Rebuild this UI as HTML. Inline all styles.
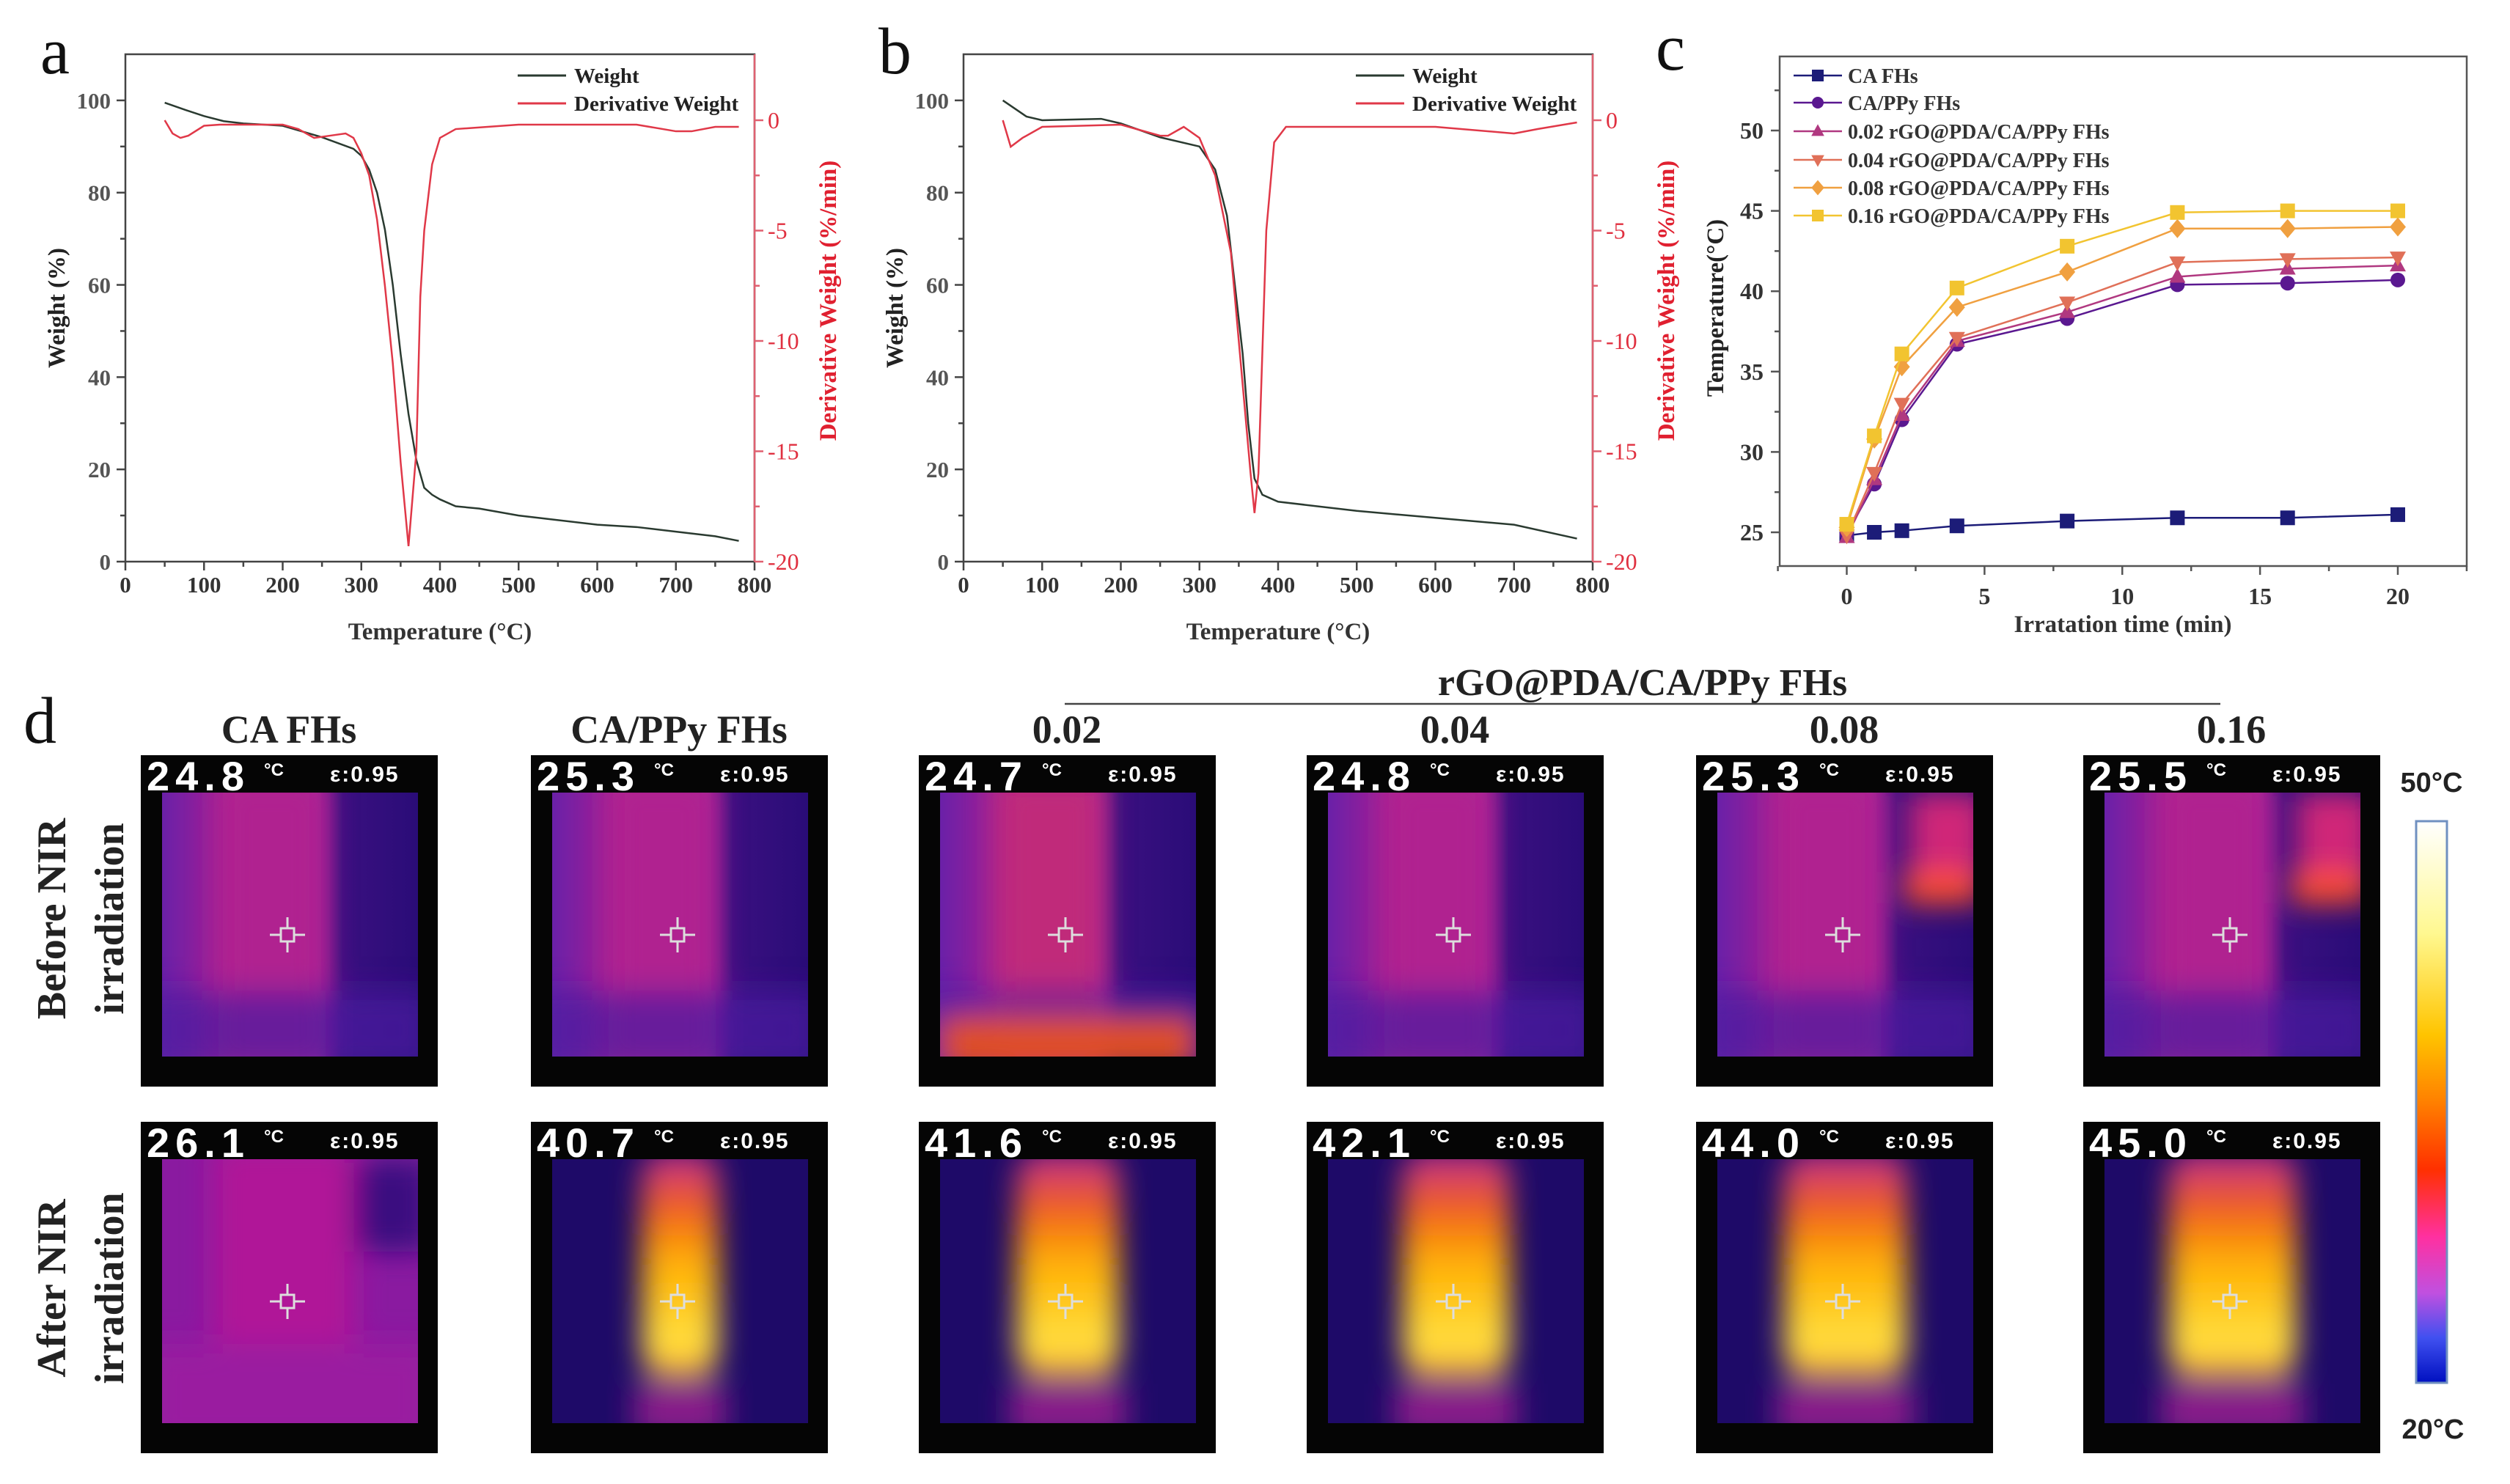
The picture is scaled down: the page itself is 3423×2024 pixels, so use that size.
<!DOCTYPE html>
<html><head><meta charset="utf-8"><style>
html,body{margin:0;padding:0;background:#fff}
svg{display:block}
text{font-family:"Liberation Serif",serif;font-weight:bold}
text.nb{font-weight:normal}
.sans{font-family:"Liberation Sans",sans-serif}
</style></head><body>
<svg id="fig" width="3423" height="2024" viewBox="0 0 3423 2024" xmlns="http://www.w3.org/2000/svg">
<defs>
<filter id="blur" x="-30%" y="-30%" width="160%" height="160%"><feGaussianBlur stdDeviation="20"/></filter>
<linearGradient id="cbar" x1="0" y1="0" x2="0" y2="1">
<stop offset="0" stop-color="#ffffff"/><stop offset="0.2" stop-color="#fff890"/><stop offset="0.38" stop-color="#ffc400"/><stop offset="0.5" stop-color="#ff8000"/><stop offset="0.62" stop-color="#ff3000"/><stop offset="0.74" stop-color="#ff30a0"/><stop offset="0.84" stop-color="#c050e0"/><stop offset="0.92" stop-color="#4050f0"/><stop offset="1" stop-color="#0010c0"/></linearGradient>
<linearGradient id="hot" x1="0" y1="0" x2="0" y2="1">
<stop offset="0" stop-color="#c02890"/><stop offset="0.25" stop-color="#f06020"/><stop offset="0.5" stop-color="#ffb000"/><stop offset="0.85" stop-color="#ffe040"/><stop offset="1" stop-color="#ffb030"/></linearGradient>
<linearGradient id="before" x1="0" y1="0" x2="1" y2="0">
<stop offset="0" stop-color="#6a20a8"/><stop offset="0.3" stop-color="#b02090"/><stop offset="0.6" stop-color="#a0209a"/><stop offset="0.7" stop-color="#3a1080"/><stop offset="1" stop-color="#2a0c78"/></linearGradient>
</defs>
<g id="pa"></g>
<g id="pb"></g>
<g id="pc"></g>
<g id="pd"></g>
</svg>
<script>
// ---- Panel a data ----
const aTemp = [50,75,100,125,150,200,250,290,300,310,320,330,340,350,360,370,380,390,400,420,450,500,550,600,650,700,750,780];
const aWeight = [99.5,98,96.6,95.5,95,94.5,92,89.5,88,85,80,72,60,45,32,22,16,14.5,13.5,12,11.5,10,9,8,7.5,6.5,5.5,4.5];
const aDerivT = [50,60,70,80,100,120,200,220,240,260,280,290,300,310,320,330,340,350,360,370,375,380,390,400,420,500,650,700,720,750,780];
const aDeriv = [0,-0.6,-0.8,-0.7,-0.25,-0.2,-0.2,-0.4,-0.8,-0.7,-0.6,-0.8,-1.5,-2.5,-4.5,-7.5,-11,-15.5,-19.3,-15,-8,-5,-2,-0.8,-0.4,-0.2,-0.2,-0.5,-0.5,-0.3,-0.3];
// ---- Panel b data ----
const bTemp = [50,80,100,175,200,250,300,320,335,345,355,362,370,380,400,500,600,700,780];
const bWeight = [100,96.5,95.7,96,95,92,90,85,75,60,45,30,18,14.5,13,11,9.5,8,5];
const bDerivT = [50,60,75,100,200,250,260,280,300,320,340,355,365,370,375,385,395,410,600,700,730,780];
const bDeriv = [0,-1.2,-0.8,-0.3,-0.2,-0.7,-0.7,-0.3,-0.8,-2.5,-6,-12,-16,-17.8,-16,-5,-1,-0.3,-0.3,-0.6,-0.4,-0.1];
const tgaXTicks = [0,100,200,300,400,500,600,700,800];
const tgaYTicks = [0,20,40,60,80,100];
const tgaRTicks = [0,-5,-10,-15,-20];
// ---- Panel c data ----
const cTimes = [0,1,2,4,8,12,16,20];
const cNames = ["CA FHs","CA/PPy FHs","0.02 rGO@PDA/CA/PPy FHs","0.04 rGO@PDA/CA/PPy FHs","0.08 rGO@PDA/CA/PPy FHs","0.16 rGO@PDA/CA/PPy FHs"];
const cCA = [24.8,25.0,25.1,25.4,25.7,25.9,25.9,26.1];
const cPPy = [24.9,28.0,32.0,36.7,38.3,40.4,40.5,40.7];
const c002 = [24.7,28.3,32.3,36.9,38.7,40.9,41.4,41.6];
const c004 = [24.8,28.7,33.0,37.1,39.3,41.8,42.0,42.1];
const c008 = [25.3,30.8,35.3,39.0,41.2,43.9,43.9,44.0];
const c016 = [25.5,31.0,36.1,40.2,42.8,44.9,45.0,45.0];
const cXTicks = [0,5,10,15,20];
const cYTicks = [25,30,35,40,45,50];
// ---- Panel d data ----
const dCols = ["CA FHs","CA/PPy FHs","0.02","0.04","0.08","0.16"];
const dBefore = ["24.8","25.3","24.7","24.8","25.3","25.5"];
const dAfter = ["26.1","40.7","41.6","42.1","44.0","45.0"];

const NS="http://www.w3.org/2000/svg";
function mk(parent,tag,attrs,txt){const e=document.createElementNS(NS,tag);for(const k in attrs)e.setAttribute(k,attrs[k]);if(txt!==undefined)e.textContent=txt;parent.appendChild(e);return e;}

function tga(g,dx,temp,wt,dT,dv,letter){
  const L=171+dx,R=1029+dx,T=74,B=766;
  const sx=v=>L+(v/800)*(R-L);
  const sy=v=>766-(v/110)*(B-T);
  const sr=v=>164+(-v/20)*(766-164);
  const lab=mk(g,'text',{x:55+dx,y:100,'font-size':90,'class':'nb',fill:'#111'},letter);
  
  
  const box=mk(g,'rect',{x:L,y:T,width:R-L,height:B-T,fill:'none',stroke:'#444','stroke-width':2.5});
  
  
  mk(g,'line',{x1:R,y1:T,x2:R,y2:B,stroke:'#e06070','stroke-width':2.5});
  for(let v=0;v<=800;v+=50){const big=v%100===0;mk(g,'line',{x1:sx(v),y1:B,x2:sx(v),y2:B+(big?12:7),stroke:'#444','stroke-width':2.5});}
  tgaXTicks.forEach(v=>{const t=mk(g,'text',{x:sx(v),y:B+42,'text-anchor':'middle','font-size':31,fill:'#333'},String(v));});
  for(let v=0;v<=100;v+=10){const big=v%20===0;mk(g,'line',{x1:L,y1:sy(v),x2:L-(big?12:7),y2:sy(v),stroke:'#444','stroke-width':2.5});}
  tgaYTicks.forEach(v=>{const t=mk(g,'text',{x:L-20,y:sy(v)+11,'text-anchor':'end','font-size':31,fill:'#555'},String(v));});
  for(let v=0;v>=-20;v-=2.5){const big=v%5===0;mk(g,'line',{x1:R,y1:sr(v),x2:R+(big?12:7),y2:sr(v),stroke:'#e06070','stroke-width':2.5});}
  tgaRTicks.forEach(v=>{const t=mk(g,'text',{x:R+18,y:sr(v)+11,'font-size':32,'class':'nb',fill:'#e03040'},String(v));});
  const xt=mk(g,'text',{x:(L+R)/2,y:872,'text-anchor':'middle','font-size':33,fill:'#333'},'Temperature (°C)');
  
  const yt=mk(g,'text',{x:0,y:0,'text-anchor':'middle','font-size':33,fill:'#222',transform:`translate(${88+dx},${420}) rotate(-90)`},'Weight (%)');
  
  const rt=mk(g,'text',{x:0,y:0,'text-anchor':'middle','font-size':33,fill:'#e02030',transform:`translate(${1140+dx},${410}) rotate(-90)`},'Derivative Weight (%/min)');
  
  const wl=mk(g,'polyline',{points:temp.map((t,i)=>sx(t)+','+sy(wt[i])).join(' '),fill:'none',stroke:'#2a3a30','stroke-width':2.5});
  
  const dl=mk(g,'polyline',{points:dT.map((t,i)=>sx(t)+','+sr(dv[i])).join(' '),fill:'none',stroke:'#e03848','stroke-width':2.5});
  
  mk(g,'line',{x1:706+dx,y1:103,x2:772+dx,y2:103,stroke:'#2a3a30','stroke-width':3});
  const l1=mk(g,'text',{x:783+dx,y:113,'font-size':29,fill:'#222'},'Weight');
  mk(g,'line',{x1:706+dx,y1:141,x2:772+dx,y2:141,stroke:'#e03848','stroke-width':3});
  const l2=mk(g,'text',{x:783+dx,y:151,'font-size':29,fill:'#222'},'Derivative Weight');
}
tga(document.getElementById('pa'),0,aTemp,aWeight,aDerivT,aDeriv,'a');
tga(document.getElementById('pb'),1143,bTemp,bWeight,bDerivT,bDeriv,'b');

// Panel c
(function(){
  const g=document.getElementById('pc');
  const L=2427,R=3364,T=77,B=772;
  const sx=v=>2518.5+v*(3270-2518.5)/20;
  const sy=v=>726-(v-25)*(726-178)/25;
  const lab=mk(g,'text',{x:2258,y:95,'font-size':90,'class':'nb',fill:'#111'},'c');
  
  const box=mk(g,'rect',{x:L,y:T,width:R-L,height:B-T,fill:'none',stroke:'#555','stroke-width':2.5});
  
  for(let v=-2.5;v<=22.5;v+=2.5){const big=v%5===0;mk(g,'line',{x1:sx(v),y1:B,x2:sx(v),y2:B+(big?12:7),stroke:'#555','stroke-width':2.5});}
  cXTicks.forEach(v=>{const t=mk(g,'text',{x:sx(v),y:B+52,'text-anchor':'middle','font-size':32,fill:'#333'},String(v));});
  for(let v=22.5;v<=55;v+=2.5){if(sy(v)<T||sy(v)>B)continue;const big=v%5===0;mk(g,'line',{x1:L,y1:sy(v),x2:L-(big?12:7),y2:sy(v),stroke:'#555','stroke-width':2.5});}
  cYTicks.forEach(v=>{const t=mk(g,'text',{x:L-22,y:sy(v)+11,'text-anchor':'end','font-size':32,fill:'#333'},String(v));});
  const xt=mk(g,'text',{x:2895,y:862,'text-anchor':'middle','font-size':33,fill:'#333'},'Irratation time (min)');
  
  const yt=mk(g,'text',{x:0,y:0,'text-anchor':'middle','font-size':33,fill:'#222',transform:'translate(2350,420) rotate(-90)'},'Temperature(°C)');
  
  const series=[cCA,cPPy,c002,c004,c008,c016];
  const cols=['#1c1c78','#5a1890','#b03880','#e07058','#f0a040','#f2c430'];
  const shapes=['sq','ci','tu','td','di','sq'];
  function marker(par,x,y,s,c,r){
    let e;
    if(s==='sq')e=mk(par,'rect',{x:x-r,y:y-r,width:2*r,height:2*r,fill:c});
    else if(s==='ci')e=mk(par,'circle',{cx:x,cy:y,r:r,fill:c});
    else if(s==='tu')e=mk(par,'polygon',{points:`${x},${y-r*1.2} ${x-r*1.1},${y+r*0.8} ${x+r*1.1},${y+r*0.8}`,fill:c});
    else if(s==='td')e=mk(par,'polygon',{points:`${x},${y+r*1.2} ${x-r*1.1},${y-r*0.8} ${x+r*1.1},${y-r*0.8}`,fill:c});
    else e=mk(par,'polygon',{points:`${x},${y-r*1.3} ${x+r*1.1},${y} ${x},${y+r*1.3} ${x-r*1.1},${y}`,fill:c});
    return e;
  }
  series.forEach((arr,si)=>{
    const sg=mk(g,'g',{});
    
    
    mk(sg,'polyline',{points:cTimes.map((t,i)=>sx(t)+','+sy(arr[i])).join(' '),fill:'none',stroke:cols[si],'stroke-width':2.5});
    cTimes.forEach((t,i)=>{const m=marker(sg,sx(t),sy(arr[i]),shapes[si],cols[si],10);});
    const ly=[103,140,179,218,256,294][si];
    const le=mk(g,'g',{});
    
    
    mk(le,'line',{x1:2446,y1:ly,x2:2512,y2:ly,stroke:cols[si],'stroke-width':2.5});
    marker(le,2479,ly,shapes[si],cols[si],8);
    mk(le,'text',{x:2520,y:ly+10,'font-size':28,fill:'#333'},cNames[si]);
  });
})();

// Panel d
(function(){
  const g=document.getElementById('pd');
  const lab=mk(g,'text',{x:32,y:1013,'font-size':90,'class':'nb',fill:'#111'},'d');
  
  const colX=[192,724,1253,1782,2313,2841];
  const rowY=[1030,1530];
  const grp=mk(g,'text',{x:2240,y:948,'text-anchor':'middle','font-size':52,fill:'#222'},'rGO@PDA/CA/PPy FHs');
  
  mk(g,'line',{x1:1452,y1:960,x2:3028,y2:960,stroke:'#444','stroke-width':2.5});
  [['Before NIR',1253,69],['irradiation',1253,148],['After NIR',1757,69],['irradiation',1757,148]].forEach(r=>{
    const t=mk(g,'text',{x:0,y:0,'text-anchor':'middle','font-size':56,fill:'#222',transform:`translate(${r[2]+20},${r[1]}) rotate(-90)`},r[0]);
    
  });
  dCols.forEach((name,ci)=>{
    const x0=colX[ci];
    const t=mk(g,'text',{x:x0+202,y:1013,'text-anchor':'middle','font-size':54,fill:'#222'},name);
    
    rowY.forEach((y0,ri)=>{
      const cell=mk(g,'g',{});
      
      
      mk(cell,'rect',{x:x0,y:y0,width:405,height:452,fill:'#050505'});
      const px=x0+29,py=y0+51,pw=349,ph=360;
      const cp='clip'+ci+'_'+ri;
      const cpe=mk(cell,'clipPath',{id:cp});mk(cpe,'rect',{x:px,y:py,width:pw,height:ph});
      const inner=mk(cell,'g',{'clip-path':`url(#${cp})`});
      const heat=ri===1&&ci>0;
      if(!heat){
        mk(inner,'rect',{x:px,y:py,width:pw,height:ph,fill:ri? '#8a1aa0':'url(#before)'});
        const b=mk(inner,'g',{filter:'url(#blur)'});
        if(ri===0){
          mk(b,'rect',{x:px+pw*0.22,y:py-20,width:pw*0.42,height:ph+40,fill:ci===2?'#c02a7a':'#b02090'});
          mk(b,'rect',{x:px-20,y:py+ph*0.75,width:pw+40,height:ph*0.3,fill:'#4a18a0',opacity:0.7});
          if(ci===2)mk(b,'rect',{x:px,y:py+ph*0.85,width:pw,height:ph*0.2,fill:'#e05020'});
          if(ci>=4){mk(b,'rect',{x:px+pw*0.73,y:py+ph*0.3,width:pw*0.3,height:ph*0.12,fill:'#ff5020'});mk(b,'rect',{x:px+pw*0.75,y:py,width:pw*0.3,height:ph*0.3,fill:'#d02878'});}
        } else {
          mk(b,'rect',{x:px+pw*0.2,y:py-20,width:pw*0.55,height:ph+40,fill:'#b01898'});
          mk(b,'rect',{x:px-20,y:py+ph*0.7,width:pw+40,height:ph*0.4,fill:'#9a1ca0'});
          mk(b,'rect',{x:px+pw*0.75,y:py,width:pw*0.3,height:ph*0.35,fill:'#3a1080'});
        }
      } else {
        mk(inner,'rect',{x:px,y:py,width:pw,height:ph,fill:'#1e0a68'});
        const b=mk(inner,'g',{filter:'url(#blur)'});
        const w=[0,0.3,0.4,0.42,0.48,0.5][ci];
        mk(b,'rect',{x:px+pw*(0.5-w/2),y:py-10,width:pw*w,height:ph*0.85,rx:30,fill:'url(#hot)'});
        mk(b,'rect',{x:px+pw*(0.5-w/2)-10,y:py+ph*0.85,width:pw*w+20,height:ph*0.2,fill:'#8a1a8a'});
      }
      const cx=x0+200,cy=y0+245;
      const ch=mk(cell,'g',{stroke:'#ddd','stroke-width':3,fill:'none'});
      
      mk(ch,'rect',{x:cx-9,y:cy-9,width:18,height:18});
      mk(ch,'line',{x1:cx-24,y1:cy,x2:cx-9,y2:cy});mk(ch,'line',{x1:cx+9,y1:cy,x2:cx+24,y2:cy});
      mk(ch,'line',{x1:cx,y1:cy-24,x2:cx,y2:cy-9});mk(ch,'line',{x1:cx,y1:cy+9,x2:cx,y2:cy+24});
      const tv=mk(cell,'text',{x:x0+8,y:y0+48,'font-size':56,fill:'#fff','class':'sans','letter-spacing':'8'},(ri?dAfter:dBefore)[ci]);
      
      mk(cell,'text',{x:x0+168,y:y0+28,'font-size':24,fill:'#fff','class':'sans'},'°C');
      mk(cell,'text',{x:x0+258,y:y0+36,'font-size':30,fill:'#fff','class':'sans','letter-spacing':'2'},'ε:0.95');
    });
  });
  const cb=mk(g,'rect',{x:3295,y:1120,width:42,height:766,fill:'url(#cbar)',stroke:'#7090c0','stroke-width':3});
  
  const t1=mk(g,'text',{x:3316,y:1080,'text-anchor':'middle','font-size':38,fill:'#222','class':'sans'},'50°C');
  
  const t2=mk(g,'text',{x:3318,y:1962,'text-anchor':'middle','font-size':38,fill:'#222','class':'sans'},'20°C');
  
})();
</script>
</body></html>
